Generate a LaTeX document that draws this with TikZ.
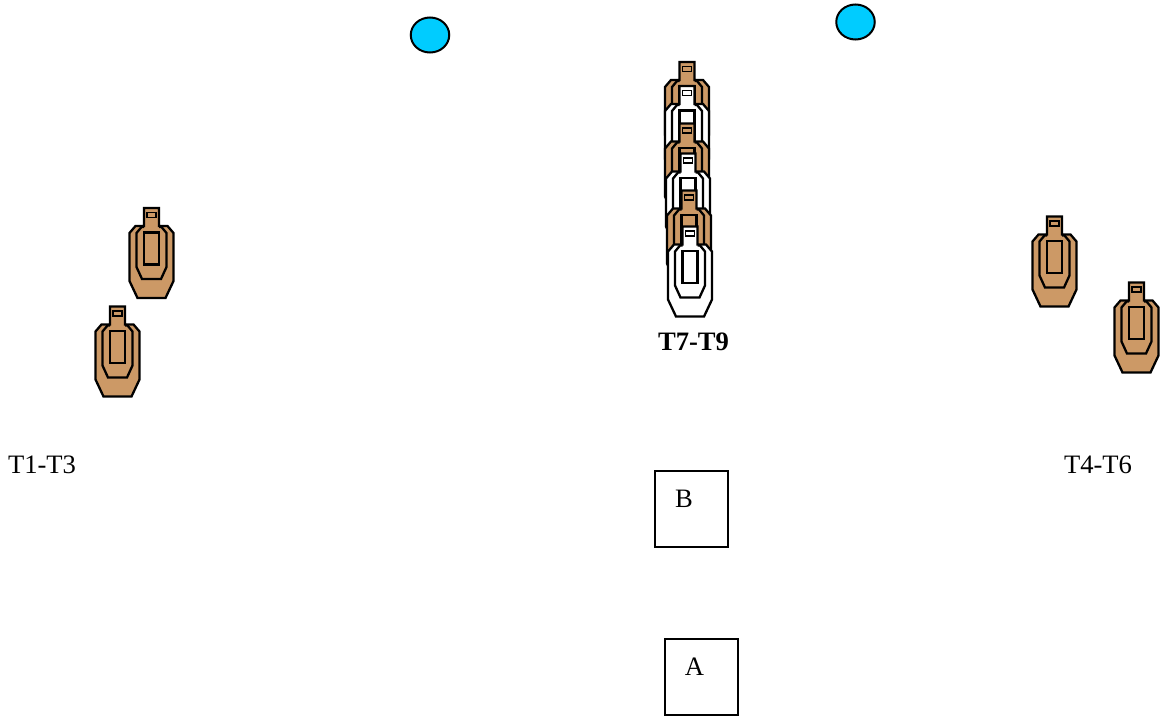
\documentclass[tikz,border=0pt]{standalone}
\usepackage{fontspec}
\setmainfont{Liberation Serif}
\usepackage{xcolor}
\usetikzlibrary{positioning,shapes.geometric}
\definecolor{tantarget}{HTML}{CC9966}
\definecolor{popper}{HTML}{00CCFF}

\begin{document}
\begin{tikzpicture}[x=1pt, y=-1pt,
  label/.style={inner sep=0pt, font=\fontsize{26.6}{30}\selectfont},
  box/.style={draw, line width=2pt, minimum width=73.5pt, minimum height=75.5pt, inner sep=0pt},
  plate/.style={ellipse, draw, line width=2pt, fill=popper, minimum width=38.5pt, minimum height=35pt, inner sep=0pt},
  target/.pic={
    \draw[line width=2.3pt, line join=miter, fill=#1]
      (-7.5,0) -- (7.5,0) -- (7.5,18) -- (16,18) -- (22,25) -- (22,73) -- (14,90)
      -- (-14,90) -- (-22,73) -- (-22,25) -- (-16,18) -- (-7.5,18) -- cycle;
    \draw[line width=2.3pt, line join=miter]
      (-7.5,19) -- (-10,19) -- (-15,25) -- (-15,59) -- (-9.5,71) -- (9.5,71) -- (15,59) -- (15,25) -- (10,19) -- (7.5,19);
    \draw[line width=2.3pt] (-7.5,24.5) rectangle (7.5,56.5);
    \draw[line width=1.5pt] (-4.5,4.5) rectangle (4.5,9.5);
  }]
  \useasboundingbox (0,0) rectangle (1162,715);

  \node[plate] (P1) at (430,35) {};
  \node[plate] (P2) at (855.5,22) {};

  % left and right targets
  \pic (T1) at (151.5,208) {target=tantarget};
  \pic (T2) at (117.5,306.5) {target=tantarget};
  \pic (T4) at (1054.5,216.5) {target=tantarget};
  \pic (T5) at (1136.5,282.5) {target=tantarget};

  % stacked targets
  \pic (T7a) at (687,62) {target=tantarget};
  \pic (T7b) at (687,86) {target=white};
  \pic (T8a) at (687,123.5) {target=tantarget};
  \pic (T8b) at (688,153.5) {target=white};
  \pic (T9a) at (689,190.5) {target=tantarget};
  \pic (T9b) at (690,226.5) {target=white};

  \node[label, font=\fontsize{26.6}{30}\selectfont\bfseries] (Lc) at (693.5,342) {T7-T9};
  \node[label] (Ll) at (42,465) {T1-T3};
  \node[label] (Lr) at (1098,465) {T4-T6};

  \node[box] (B) at (691.5,509) {};
  \node[box] (A) at (701.5,677) {};
  \node[label] (Bl) at (684,499) {B};
  \node[label] (Al) at (694.5,667) {A};
\end{tikzpicture}
\end{document}
